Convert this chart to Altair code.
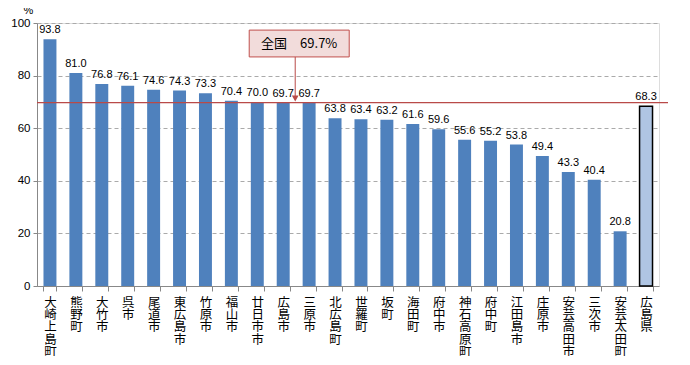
import altair as alt
import pandas as pd

categories = ["大崎上島町", "熊野町", "大竹市", "呉市", "尾道市", "東広島市", "竹原市", "福山市",
              "廿日市市", "広島市", "三原市", "北広島町", "世羅町", "坂町", "海田町", "府中市",
              "神石高原町", "府中町", "江田島市", "庄原市", "安芸高田市", "三次市", "安芸太田町", "広島県"]
values = [93.8, 81.0, 76.8, 76.1, 74.6, 74.3, 73.3, 70.4, 70.0, 69.7, 69.7, 63.8, 63.4, 63.2,
          61.6, 59.6, 55.6, 55.2, 53.8, 49.4, 43.3, 40.4, 20.8, 68.3]
national = 69.7
note_text = "全国　69.7%"
note_anchor = "広島市"
note_top, note_bottom = 97.3, 87.1

df = pd.DataFrame({"cat": categories, "val": values,
                   "kind": ["pref" if c == "広島県" else "muni" for c in categories]})

FONT = "Noto Sans CJK JP"
NUMFONT = "Liberation Sans"
x_enc = alt.X("cat:N", sort=categories, title=None,
              scale=alt.Scale(paddingInner=0.5, paddingOuter=0.25),
              axis=alt.Axis(labelAngle=0, labelExpr="split(datum.label, '')",
                            labelBaseline="top", labelLineHeight=12.4, labelFontSize=12.5,
                            labelFont=FONT, labelColor="#000", labelPadding=5, labelLimit=500,
                            labelOverlap=False,
                            tickBand="extent", tickSize=5, tickColor="#888",
                            domainColor="#888", grid=False))
y_scale = alt.Scale(domain=[0, 100])

base = alt.Chart(df)
bars = base.mark_bar().encode(
    x=x_enc,
    y=alt.Y("val:Q", scale=y_scale,
            axis=alt.Axis(values=[0, 20, 40, 60, 80, 100], title="%", titleAngle=0,
                          titleX=-9, titleY=-13, titleAlign="center", titleBaseline="middle",
                          titleFont=NUMFONT,
                          titleFontSize=11, titleFontWeight="normal", titleColor="#000",
                          labelFont=NUMFONT, labelFontSize=11.5, labelColor="#000",
                          gridDash=[4, 3], gridColor="#aaa", domainColor="#888",
                          tickSize=4, tickColor="#888", labelPadding=3)),
    color=alt.Color("kind:N", scale=alt.Scale(domain=["muni", "pref"], range=["#4F81BD", "#AFC5E3"]),
                    legend=None),
    stroke=alt.Stroke("kind:N", scale=alt.Scale(domain=["muni", "pref"], range=["#4F81BD", "#000000"]),
                      legend=None),
    strokeWidth=alt.StrokeWidth("kind:N", scale=alt.Scale(domain=["muni", "pref"], range=[0, 1.5]),
                                legend=None),
)
labels = base.mark_text(dy=-9, fontSize=11, font=NUMFONT, color="#000").encode(
    x=alt.X("cat:N", sort=categories), y=alt.Y("val:Q", scale=y_scale),
    text=alt.Text("val:Q", format=".1f"))

nat_df = pd.DataFrame({"v": [national]})
rule = alt.Chart(nat_df).mark_rule(color="#B94A48", strokeWidth=1.2).encode(
    y=alt.Y("v:Q", scale=y_scale), x=alt.value(0), x2=alt.value(631))

note_df = pd.DataFrame({"cat": [note_anchor], "top": [note_top], "bottom": [note_bottom],
                        "line": [national], "txt": [note_text], "mid": [(note_top + note_bottom) / 2],
                        "tip": [national + 1.6]})
nbase = alt.Chart(note_df)
nx = alt.X("cat:N", sort=categories)
box = nbase.mark_bar(width=100, xOffset=16, fill="#F2DCDB", stroke="#C0504D", strokeWidth=1).encode(
    x=nx, y=alt.Y("top:Q", scale=y_scale), y2="bottom:Q")
ntext = nbase.mark_text(xOffset=16, fontSize=13, font=FONT, color="#000").encode(
    x=nx, y=alt.Y("mid:Q", scale=y_scale), text="txt:N")
arrow = nbase.mark_rule(xOffset=12, color="#B94A48", strokeWidth=1).encode(
    x=nx, y=alt.Y("bottom:Q", scale=y_scale), y2="tip:Q")
head = nbase.mark_point(shape="triangle-down", xOffset=12, size=45, filled=True,
                        color="#B94A48", opacity=1).encode(
    x=nx, y=alt.Y("tip:Q", scale=y_scale))

chart = alt.layer(bars, rule, labels, box, ntext, arrow, head).properties(
    width=622, height=263,
    autosize=alt.AutoSizeParams(type="none"),
    padding={"left": 29, "top": 15, "right": 20, "bottom": 70},
).configure_view(stroke=None).configure(background="white")

chart.save("out.html", embed_options={"renderer": "svg", "actions": False})
